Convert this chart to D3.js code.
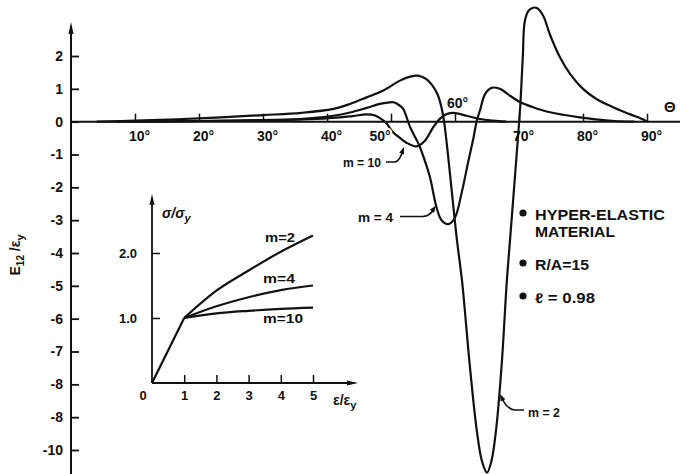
<!DOCTYPE html>
<html>
<head>
<meta charset="utf-8">
<script src="https://cdn.jsdelivr.net/npm/d3@7"></script>
<style>
  html, body { margin: 0; padding: 0; background: #fff; }
  svg { display: block; }
  text { font-family: "Liberation Sans", Arial, sans-serif; fill: #111; }
</style>
</head>
<body>
<script>
// ---------- DATA ----------
// main chart: [theta (deg), E12/ey]
const m2 = [[4,0],[10,0.03],[20,0.1],[30,0.2],[36,0.27],[41,0.39],[43.6,0.54],[46.2,0.74],[48.8,0.95],[51.4,1.25],[53,1.37],[54.2,1.4],[55.5,1.3],[56.4,1.12],[57.3,0.82],[57.9,0.42],[58.3,0],[60.3,-3.6],[61.1,-4.85],[62.3,-7.4],[63.4,-9.4],[64.2,-10.33],[65,-10.69],[65.7,-10.33],[66.4,-9.42],[67.3,-7.38],[68.1,-4.85],[68.6,-3.6],[69.8,-0.58],[70.2,0.49],[70.6,2.0],[70.9,3.05],[71.5,3.38],[72.2,3.47],[72.8,3.46],[73.8,3.22],[74.8,2.67],[76.4,1.96],[78,1.45],[80,1.0],[82.1,0.69],[84.7,0.44],[87.3,0.23],[89.7,0.04],[90,0]];
const m4 = [[7,0],[20,0.02],[30,0.05],[35.8,0.08],[41,0.18],[43.6,0.28],[46.2,0.42],[48.3,0.54],[49.5,0.58],[50.4,0.59],[51.3,0.5],[51.9,0.39],[53,-0.17],[54.4,-0.72],[55.3,-1.2],[56.1,-1.7],[57.1,-2.6],[57.9,-3.0],[59,-3.12],[60,-2.92],[61,-2.2],[62.1,-1.19],[62.9,-0.48],[63.4,0.03],[63.9,0.34],[64.7,0.84],[65.7,1.03],[67,1.0],[68.6,0.79],[70.2,0.59],[72.2,0.44],[74.3,0.31],[76.9,0.21],[79.5,0.13],[82,0.07],[85,0.02],[88,0]];
const m10 = [[9,0],[20,0.02],[30,0.04],[40,0.1],[44,0.17],[46.2,0.22],[47.5,0.19],[48.5,0.08],[49.3,-0.05],[50.2,-0.3],[51.1,-0.45],[52.4,-0.64],[54,-0.75],[55.3,-0.58],[56.6,-0.17],[57.7,0.1],[58.7,0.23],[59.8,0.27],[61.8,0.18],[63.9,0.08],[66,0.03],[68,0]];

const xTicks = [10,20,30,40,50,60,70,80,90];
const xTickLabels = ["10°","20°","30°","40°","50°","60°","70°","80°","90°"];
const yTicks = [2,1,0,-1,-2,-3,-4,-5,-6,-7,-8,-9,-10];
const yTickLabels = ["2","1","0","-1","-2","-3","-4","-5","-6","-7","-8","-8","-10"];

// inset: [eps/eps_y, sigma/sigma_y]
const elastic = [[0,0],[1,1.0]];
const in_m2 = [[1,1.0],[2,1.42],[3,1.73],[4,2.02],[5,2.27]];
const in_m4 = [[1,1.0],[2,1.18],[3,1.32],[4,1.43],[5,1.5]];
const in_m10 = [[1,1.0],[2,1.07],[3,1.11],[4,1.14],[5,1.16]];
const inXTicks = [1,2,3,4,5];
const inXTickLabels = ["1","2","3","4","5"];
const inYTicks = [1,2];
const inYTickLabels = ["1.0","2.0"];

const legendItems = ["HYPER-ELASTIC","R/A=15","ℓ = 0.98"];

// ---------- DRAW ----------
const W = 680, H = 474;
const svg = d3.select("body").append("svg").attr("width", W).attr("height", H);
svg.append("rect").attr("width", W).attr("height", H).attr("fill", "#fff");

const x = d3.scaleLinear().domain([0, 90]).range([71, 647]);
const y = d3.scaleLinear().domain([-10, 2]).range([450, 56]);

const ink = "#111";
const FONT = "Liberation Sans, Arial, sans-serif";

// axes lines
svg.append("line").attr("x1", x(0)).attr("x2", x(0)).attr("y1", H).attr("y2", 26)
  .attr("stroke", ink).attr("stroke-width", 2);
svg.append("path").attr("d", `M${x(0)-2.5},34 L${x(0)},22 L${x(0)+2.5},34 Z`).attr("fill", ink);
svg.append("line").attr("x1", x(0)).attr("x2", 680).attr("y1", y(0)).attr("y2", y(0))
  .attr("stroke", ink).attr("stroke-width", 2);

const yAx = svg.append("g").attr("transform", `translate(${x(0)},0)`)
  .call(d3.axisLeft(y).tickValues(yTicks).tickFormat((d,i) => yTickLabels[i]).tickSize(-8).tickPadding(8));
yAx.select(".domain").remove();
yAx.selectAll(".tick line").attr("stroke", ink).attr("stroke-width", 1.8);
yAx.selectAll("text").attr("font-size", 14).attr("font-weight", "bold").attr("fill", ink)
  .attr("font-family", FONT);

const xAx = svg.append("g").attr("transform", `translate(0,${y(0)})`)
  .call(d3.axisBottom(x).tickValues(xTicks).tickFormat((d,i) => xTickLabels[i]).tickSize(-8).tickPadding(9));
xAx.select(".domain").remove();
xAx.selectAll(".tick line").attr("stroke", ink).attr("stroke-width", 1.5);
xAx.selectAll("text").attr("font-size", 14).attr("font-weight", "bold").attr("fill", ink)
  .attr("font-family", FONT).attr("dx", 4);
// 60° label sits above axis
xAx.selectAll(".tick").filter(d => d === 60).select("text")
  .attr("dy", null).attr("y", -14).attr("dx", 2);
// 50° label is redrawn later on top of the curves
xAx.selectAll(".tick").filter(d => d === 50).select("text").remove();

// theta symbol
svg.append("text").attr("x", 664).attr("y", 112).attr("font-size", 15).attr("font-weight", "bold").text("Θ");

// curves
const line = d3.line().x(d => x(d[0])).y(d => y(d[1])).curve(d3.curveCatmullRom.alpha(0.5));
[m10, m4, m2].forEach(s => {
  svg.append("path").attr("d", line(s)).attr("fill", "none").attr("stroke", ink)
    .attr("stroke-width", 2.2).attr("stroke-linejoin", "round");
});

// 50° label on top with white halo
svg.append("text").attr("x", x(50) - 11).attr("y", y(0) + 9).attr("dy", "0.71em")
  .attr("text-anchor", "middle").attr("font-size", 14).attr("font-weight", "bold")
  .attr("stroke", "#fff").attr("stroke-width", 4).attr("paint-order", "stroke")
  .text(xTickLabels[4]);

// curve labels with leaders
function leader(d, ax, ay, ang) {
  svg.append("path").attr("d", d).attr("fill", "none").attr("stroke", ink).attr("stroke-width", 1.6);
  svg.append("path").attr("d", "M0,0 L-7,-2.6 L-7,2.6 Z").attr("fill", ink)
    .attr("transform", `translate(${ax},${ay}) rotate(${ang})`);
}
svg.append("text").attr("x", 343).attr("y", 167).attr("font-size", 13).attr("font-weight", "bold")
  .attr("textLength", 38).attr("lengthAdjust", "spacingAndGlyphs").text("m = 10");
leader("M386,162 L395,162 Q400,161 403,150", 404, 147, -70);
svg.append("text").attr("x", 358).attr("y", 222).attr("font-size", 13).attr("font-weight", "bold")
  .attr("textLength", 35).attr("lengthAdjust", "spacingAndGlyphs").text("m = 4");
leader("M400,216.5 L423,216.5 Q430,216 434,209", 436, 205.5, -55);
svg.append("text").attr("x", 528).attr("y", 417).attr("font-size", 13).attr("font-weight", "bold")
  .attr("textLength", 32).attr("lengthAdjust", "spacingAndGlyphs").text("m = 2");
leader("M524,410 L514,410 Q506,408 502,398", 500, 394, -115);

// legend
const leg = [
  {y: 213, lines: [[legendItems[0], 130], ["MATERIAL", 80]]},
  {y: 263, lines: [[legendItems[1], 54]]},
  {y: 296, lines: [[legendItems[2], 60]]}
];
leg.forEach(it => {
  svg.append("circle").attr("cx", 523).attr("cy", it.y).attr("r", 3.6).attr("fill", ink);
  it.lines.forEach((l, i) => {
    svg.append("text").attr("x", 535).attr("y", it.y + 7 + i * 17).attr("font-size", 14)
      .attr("font-weight", "bold").attr("textLength", l[1]).attr("lengthAdjust", "spacingAndGlyphs").text(l[0]);
  });
});

// y axis title
const yt = svg.append("text").attr("transform", "translate(20,255) rotate(-90)")
  .attr("text-anchor", "middle").attr("font-size", 14).attr("font-weight", "bold");
yt.append("tspan").text("E");
yt.append("tspan").attr("font-size", 10).attr("dy", 4).text("12");
yt.append("tspan").attr("dy", -4).text(" /ε");
yt.append("tspan").attr("font-size", 11).attr("dy", 4).text("y");

// ---------- INSET ----------
const xi = d3.scaleLinear().domain([0, 5]).range([152, 313]);
const yi = d3.scaleLinear().domain([0, 2]).range([383, 253]);

svg.append("line").attr("x1", xi(0)).attr("x2", xi(0)).attr("y1", yi(0)).attr("y2", 198)
  .attr("stroke", ink).attr("stroke-width", 1.8);
svg.append("path").attr("d", `M${xi(0)-2.5},205 L${xi(0)},194 L${xi(0)+2.5},205 Z`).attr("fill", ink);
svg.append("line").attr("x1", xi(0)).attr("x2", 354).attr("y1", yi(0)).attr("y2", yi(0))
  .attr("stroke", ink).attr("stroke-width", 1.8);
svg.append("path").attr("d", `M347,${yi(0)-2.5} L358,${yi(0)} L347,${yi(0)+2.5} Z`).attr("fill", ink);

const yiAx = svg.append("g").attr("transform", `translate(${xi(0)},0)`)
  .call(d3.axisLeft(yi).tickValues(inYTicks).tickFormat((d,i) => inYTickLabels[i]).tickSize(-8).tickPadding(15));
yiAx.select(".domain").remove();
yiAx.selectAll(".tick line").attr("stroke", ink).attr("stroke-width", 1.5);
yiAx.selectAll("text").attr("font-size", 13).attr("font-weight", "bold").attr("fill", ink)
  .attr("font-family", FONT);

const xiAx = svg.append("g").attr("transform", `translate(0,${yi(0)})`)
  .call(d3.axisBottom(xi).tickValues(inXTicks).tickFormat((d,i) => inXTickLabels[i]).tickSize(-8).tickPadding(8));
xiAx.select(".domain").remove();
xiAx.selectAll(".tick line").attr("stroke", ink).attr("stroke-width", 1.5);
xiAx.selectAll("text").attr("font-size", 13).attr("font-weight", "bold").attr("fill", ink)
  .attr("font-family", FONT);
svg.append("text").attr("x", 143).attr("y", 400).attr("font-size", 13).attr("font-weight", "bold")
  .attr("text-anchor", "middle").text("0");

const lineI = d3.line().x(d => xi(d[0])).y(d => yi(d[1])).curve(d3.curveMonotoneX);
[elastic, in_m2, in_m4, in_m10].forEach(s => {
  svg.append("path").attr("d", lineI(s)).attr("fill", "none").attr("stroke", ink)
    .attr("stroke-width", 2.2).attr("stroke-linejoin", "round");
});

svg.append("text").attr("x", 265).attr("y", 242).attr("font-size", 12).attr("font-weight", "bold")
  .attr("textLength", 30).attr("lengthAdjust", "spacingAndGlyphs").text("m=2");
svg.append("text").attr("x", 263).attr("y", 283).attr("font-size", 12).attr("font-weight", "bold")
  .attr("textLength", 32).attr("lengthAdjust", "spacingAndGlyphs").text("m=4");
svg.append("text").attr("x", 263).attr("y", 323).attr("font-size", 12).attr("font-weight", "bold")
  .attr("textLength", 40).attr("lengthAdjust", "spacingAndGlyphs").text("m=10");

// inset axis titles
const st = svg.append("text").attr("x", 162).attr("y", 218).attr("font-size", 14).attr("font-weight", "bold")
  .attr("font-style", "italic");
st.append("tspan").text("σ/σ");
st.append("tspan").attr("font-size", 11).attr("dy", 4).text("y");
const et = svg.append("text").attr("x", 333).attr("y", 405).attr("font-size", 14).attr("font-weight", "bold");
et.append("tspan").text("ε/ε");
et.append("tspan").attr("font-size", 11).attr("dy", 4).text("y");
</script>
</body>
</html>
